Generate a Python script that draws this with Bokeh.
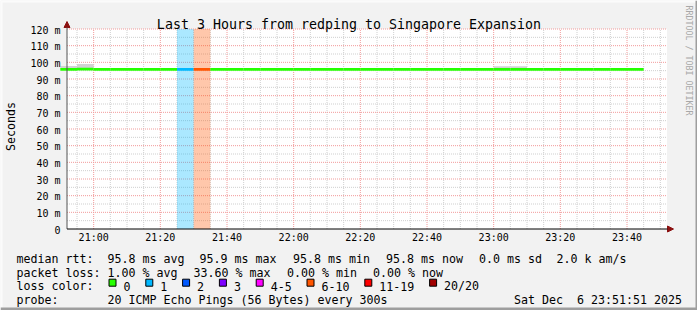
import math
from bokeh.plotting import figure
from bokeh.models import (Range1d, Label, BoxAnnotation, Arrow, NormalHead, ColumnDataSource)
from bokeh.core.properties import value
from bokeh.embed import file_html
from bokeh.resources import INLINE

# ---------------- data ----------------
title_text = "Last 3 Hours from redping to Singapore Expansion"
x_window = ["20:52", "23:52"]

bin_times = ["20:50", "20:55", "21:00", "21:05", "21:10", "21:15", "21:20", "21:25",
             "21:30", "21:35", "21:40", "21:45", "21:50", "21:55", "22:00", "22:05",
             "22:10", "22:15", "22:20", "22:25", "22:30", "22:35", "22:40", "22:45",
             "22:50", "22:55", "23:00", "23:05", "23:10", "23:15", "23:20", "23:25",
             "23:30", "23:35", "23:40"]
median_ms = [95.8, 95.9, 95.8, 95.8, 95.8, 95.8, 95.8, 95.8,
             95.8, 95.8, 95.8, 95.8, 95.8, 95.8, 95.8, 95.8,
             95.8, 95.8, 95.8, 95.8, 95.8, 95.8, 95.8, 95.8,
             95.8, 95.8, 95.8, 95.8, 95.8, 95.8, 95.8, 95.8,
             95.8, 95.8, 95.8]
loss_pings = [0, 0, 0, 0, 0, 0, 0, 1,
              7, 0, 0, 0, 0, 0, 0, 0,
              0, 0, 0, 0, 0, 0, 0, 0,
              0, 0, 0, 0, 0, 0, 0, 0,
              0, 0, 0]
smoke_lo = [95.5, 95.6, 95.6, 95.6, 95.6, 95.6, 95.6, 95.6,
            95.6, 95.6, 95.6, 95.6, 95.6, 95.6, 95.6, 95.6,
            95.6, 95.6, 95.6, 95.6, 95.6, 95.6, 95.6, 95.6,
            95.6, 95.6, 95.6, 95.6, 95.6, 95.6, 95.6, 95.6,
            95.6, 95.6, 95.6]
smoke_hi = [97.8, 99.0, 96.0, 96.0, 96.0, 96.0, 96.0, 96.0,
            96.0, 96.0, 96.0, 96.0, 96.0, 96.0, 96.0, 96.0,
            96.0, 96.0, 96.0, 96.0, 96.0, 96.0, 96.0, 96.0,
            96.0, 96.0, 97.7, 97.7, 96.0, 96.0, 96.0, 96.0,
            96.0, 96.0, 96.0]
bin_step_min = 5

x_tick_labels = ["21:00", "21:20", "21:40", "22:00", "22:20", "22:40", "23:00", "23:20", "23:40"]
y_tick_values = [0, 10, 20, 30, 40, 50, 60, 70, 80, 90, 100, 110, 120]
y_tick_labels = ["0", "10 m", "20 m", "30 m", "40 m", "50 m", "60 m", "70 m", "80 m",
                 "90 m", "100 m", "110 m", "120 m"]
y_label = "Seconds"

loss_labels = ["0", "1", "2", "3", "4-5", "6-10", "11-19", "20/20"]
loss_upper = [0, 1, 2, 3, 5, 10, 19, 20]
loss_colors = ["#26ff00", "#00b8ff", "#0059ff", "#7e00ff", "#ff00ff", "#ff5500", "#ff0000", "#a10000"]

rtt_stats = ["95.8 ms avg", "95.9 ms max", "95.8 ms min", "95.8 ms now", "0.0 ms sd", "2.0 k am/s"]
loss_stats = ["1.00 % avg", "33.60 % max", "0.00 % min", "0.00 % now"]
probe_text = "20 ICMP Echo Pings (56 Bytes) every 300s"
date_text = "Sat Dec  6 23:51:51 2025"
watermark = "RRDTOOL / TOBI OETIKER"


def hm(s):
    h, m = s.split(":")
    return int(h) * 60 + int(m)


def loss_color(n):
    for up, c in zip(loss_upper, loss_colors):
        if n <= up:
            return c
    return loss_colors[-1]


starts = [hm(t) for t in bin_times]
ends = [s + bin_step_min for s in starts]
colors = [loss_color(n) for n in loss_pings]
src = ColumnDataSource(dict(start=starts, end=ends, med=median_ms, lo=smoke_lo,
                            hi=smoke_hi, color=colors))
band_idx = [i for i, n in enumerate(loss_pings) if n > 0]
band_src = ColumnDataSource(dict(start=[starts[i] for i in band_idx],
                                 end=[ends[i] for i in band_idx],
                                 color=[colors[i] for i in band_idx]))

# ---------------- layout ----------------
W, H = 697, 310
PL, PR = 66.5, 666.5      # canvas x of plot area edges
PT, PB = 28.5, 228.5      # canvas y of plot area edges
MONO = "DejaVu Sans Mono"
BG = "#f2f2f2"

x0, x1 = hm(x_window[0]), hm(x_window[1])
y0, y1 = y_tick_values[0], y_tick_values[-1]
kx = (PR - PL) / (x1 - x0)
ky = (PB - PT) / (y1 - y0)
x_range = Range1d(x0 - PL / kx, x1 + (W - PR) / kx)
y_range = Range1d(y0 - (H - PB) / ky, y1 + PT / ky)

p = figure(width=W, height=H, output_backend="svg", toolbar_location=None,
           x_range=x_range, y_range=y_range, x_axis_location=None, y_axis_location=None,
           min_border=0)
p.background_fill_color = BG
p.border_fill_color = BG
p.outline_line_color = None
p.grid.visible = False

# plot area (white canvas)
p.add_layout(BoxAnnotation(left=x0, right=x1, bottom=y0, top=y1, fill_color="white",
                           fill_alpha=1, line_color=None, level="underlay"))

# grid
x_major = [hm(t) for t in x_tick_labels]
x_minor = [m for m in range(x0 + 3, x1 + 1, 5) if m not in x_major]
y_minor = [v + 5 for v in y_tick_values[:-1]]
y_major = y_tick_values[1:]
minor_col, major_col = "#cfcfcf", "#f29a9a"
p.segment(x0=x_minor, y0=y0, x1=x_minor, y1=y1, line_color=minor_col, line_dash="1 1", line_width=1)
p.segment(x0=x0, y0=y_minor, x1=x1, y1=y_minor, line_color=minor_col, line_dash="1 1", line_width=1)
p.segment(x0=x_major, y0=y0, x1=x_major, y1=y1, line_color=major_col, line_dash="1 1", line_width=1)
p.segment(x0=x0, y0=y_major, x1=x1, y1=y_major, line_color=major_col, line_dash="1 1", line_width=1)

# loss bands
p.quad(left="start", right="end", bottom=y0, top=y1, source=band_src,
       fill_color="color", fill_alpha=0.33, line_color=None)
# smoke
p.quad(left="start", right="end", bottom="lo", top="hi", source=src,
       fill_color="#d2d2d2", line_color=None)
# median
p.segment(x0="start", y0="med", x1="end", y1="med", source=src, line_color="color",
          line_width=2.6, line_cap="butt")

# tick labels
p.text(x=x_major, y=y0, text=x_tick_labels, text_font=value(MONO), text_font_size="10px",
       text_align="center", text_baseline="middle", y_offset=8.5, text_color="#000000")
p.text(x=x0, y=y_tick_values, text=y_tick_labels, text_font=value(MONO), text_font_size="10px",
       text_align="right", text_baseline="middle", x_offset=-6.5, y_offset=1, text_color="#000000")


def keep_spaces(t):
    return t.replace("  ", " \u00a0")


def label(cx, cy, text, size="11.63px", align="left", baseline="alphabetic",
          angle=0, color="#000000"):
    p.add_layout(Label(x=cx, y=H - cy, x_units="screen", y_units="screen",
                       text=keep_spaces(text),
                       text_font=MONO, text_font_size=size, text_align=align,
                       text_baseline=baseline, angle=angle, text_color=color))


def box(cx0, cy0, cx1, cy1, color, line=None):
    p.add_layout(BoxAnnotation(left=cx0, right=cx1, top=H - cy0, bottom=H - cy1,
                               left_units="screen", right_units="screen",
                               top_units="screen", bottom_units="screen",
                               fill_color=color, fill_alpha=1.0,
                               line_color=line, line_alpha=1.0, line_width=1))


# image 3D border
box(0, 0, W, 2, "#fbfbfb")
box(0, 0, 2, H, "#fbfbfb")
box(W - 2, 0, W, H, "#9e9e9e")
box(0, H - 3, W, H, "#9e9e9e")

# axes with arrow heads
head_col = "#8b1010"
p.add_layout(Arrow(end=NormalHead(size=6, fill_color=head_col, line_color=head_col),
                   x_start=PL, y_start=H - PB, x_end=PL, y_end=H - 21,
                   start_units="screen", end_units="screen", line_color="#555555"))
p.add_layout(Arrow(end=NormalHead(size=6, fill_color=head_col, line_color=head_col),
                   x_start=PL, y_start=H - PB, x_end=673, y_end=H - PB,
                   start_units="screen", end_units="screen", line_color="#000000"))

# title, y label, watermark
label(W / 2, 24, title_text, size="13.3px", align="center")
label(10.5, 126, y_label, size="11.63px", align="center", baseline="middle", angle=math.pi / 2)
label(688, 5, watermark, size="8.3px", align="left", baseline="middle",
      angle=-math.pi / 2, color="#a8a8a8")

# legend rows
rows_y = [258.7, 272.1, 285.7, 299.3]
label(16, rows_y[0], "median rtt:")
for x, t in zip([107, 199, 292.5, 385.5, 478.5, 556], rtt_stats):
    label(x, rows_y[0], t)
label(16, rows_y[1], "packet loss:")
for x, t in zip([107, 193, 286.5, 372.5], loss_stats):
    label(x, rows_y[1], t)
label(16, rows_y[2], "loss color:")
bx = 108.5
for lab, col in zip(loss_labels, loss_colors):
    box(bx, rows_y[2] - 7, bx + 7, rows_y[2], col, line="#000000")
    label(bx + 14.5, rows_y[2], lab)
    bx += 7 * (len(lab) + 4) + 1.8
label(16, rows_y[3], "probe:")
label(107, rows_y[3], probe_text)
label(681.5, rows_y[3], date_text, align="right")

open("out.html", "w").write(file_html(p, INLINE))
